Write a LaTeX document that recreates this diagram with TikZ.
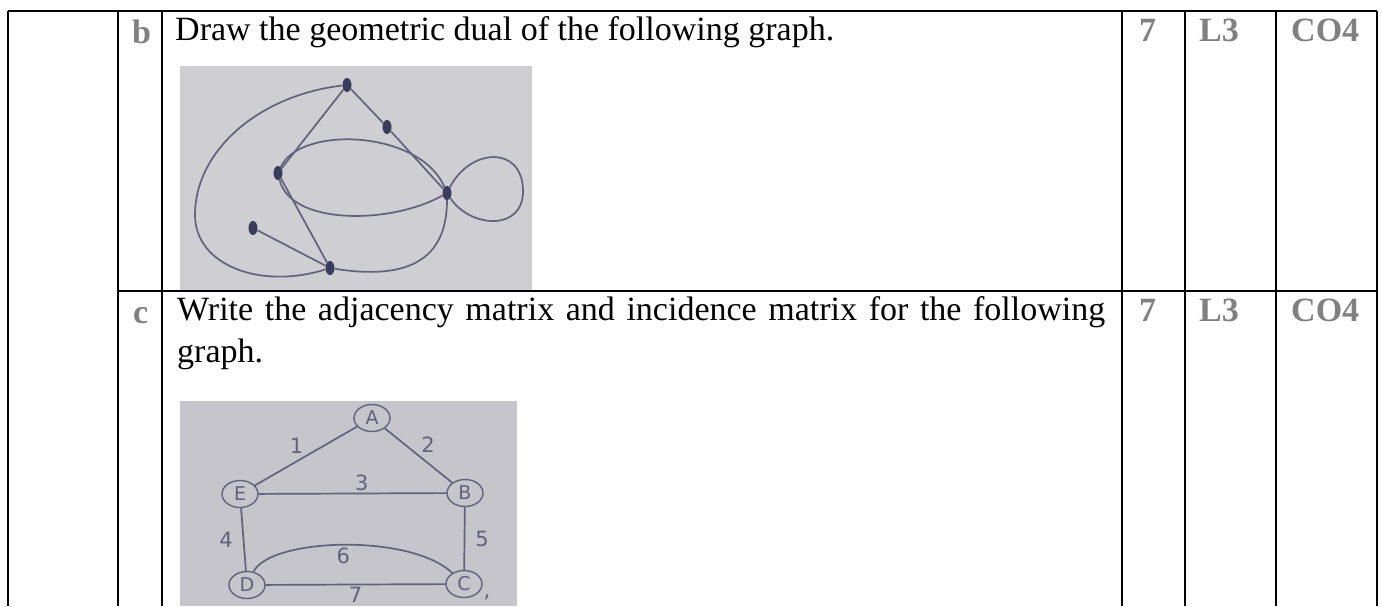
\documentclass[tikz,border=0pt]{standalone}
\usepackage{fontspec}
\setmainfont{Liberation Serif}
\newfontfamily\handfont{DejaVu Sans}
\usetikzlibrary{shapes, positioning, calc}

\definecolor{markgray}{RGB}{128,128,128}
\definecolor{photobg}{RGB}{206,206,211}
\definecolor{photobgb}{RGB}{198,197,203}
\definecolor{pencilc}{RGB}{98,98,124}
\definecolor{inkdot}{RGB}{58,60,92}

\begin{document}
\begin{tikzpicture}[
        x=1pt, y=-1pt,
        rule/.style={line width=1.6pt, black},
        qtext/.style={font=\fontsize{34}{40}\selectfont, inner sep=0pt, anchor=base west},
        tag/.style={font=\fontsize{34}{40}\selectfont\bfseries, text=markgray, inner sep=0pt, anchor=base west},
        pencil/.style={draw=pencilc, line width=1.7pt},
        vtx/.style={ellipse, fill=inkdot, minimum width=9pt, minimum height=14pt, inner sep=0pt},
        lettered/.style={ellipse, draw=pencilc, line width=1.4pt, minimum width=36pt, minimum height=27pt, inner sep=0pt, text=pencilc, font=\handfont\fontsize{19}{19}\selectfont},
        hand/.style={text=pencilc, font=\handfont\fontsize{21}{21}\selectfont, inner sep=2pt}
    ]
        \useasboundingbox (0,0) rectangle (1383,606);

        % Table rules
        \draw[rule] (8,11) -- (1377,11);
        \draw[rule] (118,291) -- (1377,291);
        \draw[rule] (8,11) -- (8,606);
        \draw[rule] (118,11) -- (118,606);
        \draw[rule] (162,11) -- (162,606);
        \draw[rule] (1122,11) -- (1122,606);
        \draw[rule] (1185,11) -- (1185,606);
        \draw[rule] (1276,11) -- (1276,606);
        \draw[rule] (1377,11) -- (1377,606);

        % Question texts
        \node[tag] (partb) at (132,43) {b};
        \node[qtext] (qb) at (175,40) {Draw the geometric dual of the following graph.};
        \node[tag] (partc) at (133,323) {c};
        \node[qtext] (qc) at (177,320) {\makebox[928pt][s]{Write the adjacency matrix and incidence matrix for the following}};
        \node[qtext] (qc2) at (177,362) {graph.};

        % Marks, levels, outcomes
        \node[tag] (marksb) at (1139,41) {7};
        \node[tag] (levelb) at (1199,41) {L3};
        \node[tag] (cob) at (1291,41) {CO4};
        \node[tag] (marksc) at (1139,321) {7};
        \node[tag] (levelc) at (1199,321) {L3};
        \node[tag] (coc) at (1291,321) {CO4};

        % First photo: plane graph
        \fill[photobg] (180,66) rectangle (532,290);
        \node[vtx] (top) at (347,85) {};
        \node[vtx] (mid) at (387,127) {};
        \node[vtx] (lft) at (278,173) {};
        \node[vtx] (rgt) at (447,193) {};
        \node[vtx] (pend) at (253,228) {};
        \node[vtx] (bot) at (330,268) {};

        \draw[pencil] (top) -- (lft);
        \draw[pencil] (top) -- (mid);
        \draw[pencil] (mid) -- (rgt);
        \draw[pencil] (lft) -- (bot);
        \draw[pencil] (pend) -- (bot);
        \draw[pencil] (lft) .. controls (300,125) and (420,130) .. (rgt);
        \draw[pencil] (lft) .. controls (290,225) and (390,225) .. (rgt);
        \draw[pencil] (rgt) .. controls (470,148) and (522,145) .. (523,190)
                            .. controls (524,232) and (470,228) .. (rgt);
        \draw[pencil] (rgt) .. controls (447,262) and (405,280) .. (bot);
        \draw[pencil] (top) .. controls (260,95) and (195,150) .. (195,215)
                            .. controls (195,265) and (260,290) .. (bot);

        % Second photo: labelled graph
        \fill[photobgb] (180,401) rectangle (517,606);
        \node[lettered] (A) at (372,418) {A};
        \node[lettered] (E) at (240,494) {E};
        \node[lettered] (B) at (465,493) {B};
        \node[lettered] (D) at (247,585) {D};
        \node[lettered] (C) at (464,584) {C};

        \draw[pencil] (A) -- (E) node[midway, hand, above left] {1};
        \draw[pencil] (A) -- (B) node[midway, hand, above right] {2};
        \draw[pencil] (E) -- (B) node[pos=0.55, hand, above] {3};
        \draw[pencil] (E) -- (D) node[midway, hand, left=8pt] {4};
        \draw[pencil] (B) -- (C) node[midway, hand, right=8pt] {5};
        \draw[pencil] (D) .. controls (270,538) and (410,533) .. (C) node[midway, hand, below] {6};
        \draw[pencil] (D) -- (C) node[midway, hand, below] {7};
        \node[hand] (tick) at (487,597) {,};

    \end{tikzpicture}
\end{document}
